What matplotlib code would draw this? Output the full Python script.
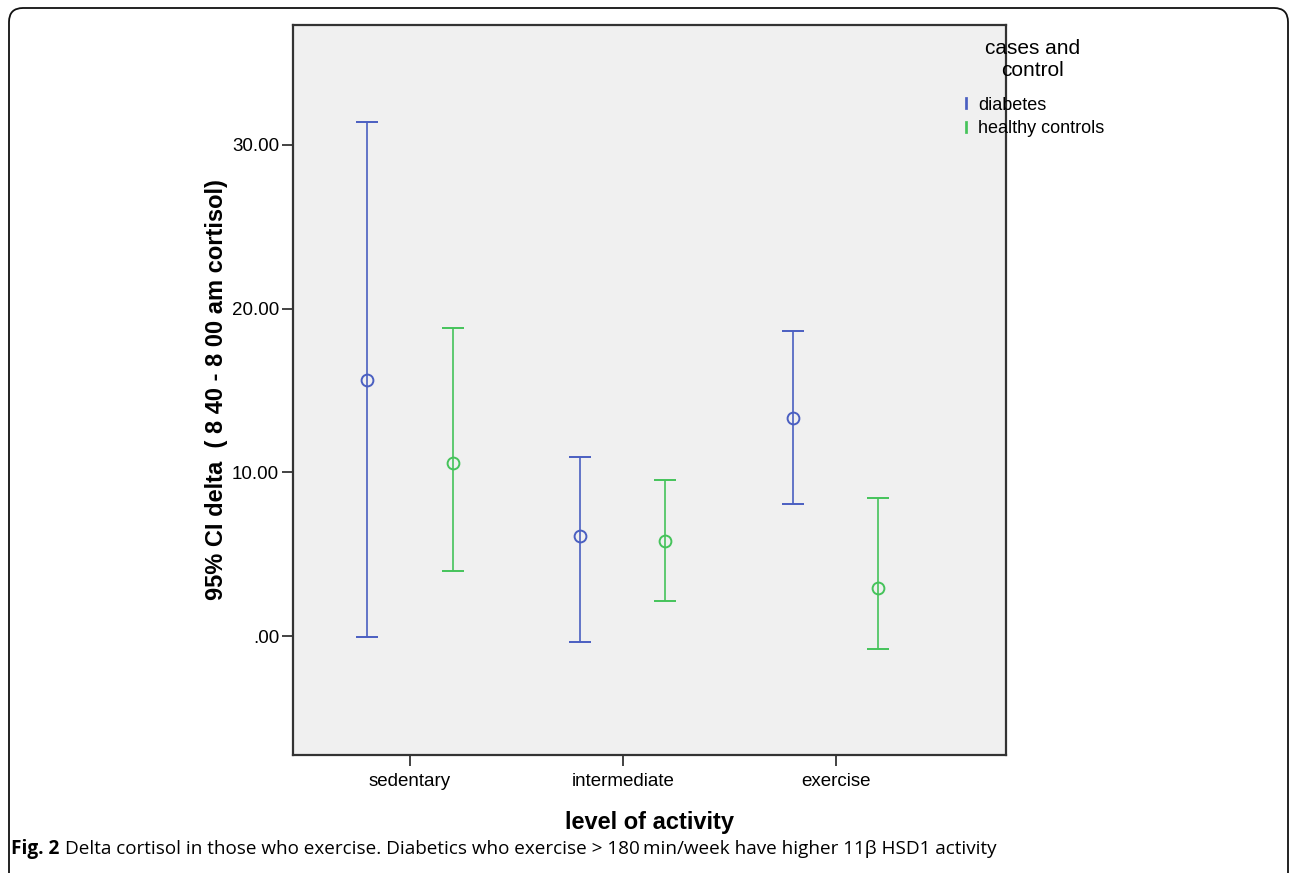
import numpy as np
import matplotlib
matplotlib.use('Agg')
import matplotlib.pyplot as plt
from matplotlib.lines import Line2D
from matplotlib.patches import FancyBboxPatch

# data
categories = ['sedentary', 'intermediate', 'exercise']
groups = ['diabetes', 'healthy controls']
means = {'diabetes': [15.66, 6.11, 13.32],
         'healthy controls': [10.57, 5.80, 2.93]}
upper = {'diabetes': [31.40, 10.93, 18.63],
         'healthy controls': [18.84, 9.53, 8.43]}
lower = {'diabetes': [-0.06, -0.37, 8.06],
         'healthy controls': [3.97, 2.14, -0.79]}
yticks = [0, 10, 20, 30]

colors = {'diabetes': '#4a5fc1', 'healthy controls': '#45c35a'}
offsets = {'diabetes': -0.2, 'healthy controls': 0.2}

plt.rcParams['font.family'] = ['Liberation Sans', 'DejaVu Sans']

fig = plt.figure(figsize=(12.9, 8.73), dpi=100)
ax = fig.add_axes([293/1290, 1-755/873, 713/1290, 730/873])
ax.set_facecolor('#f0f0f0')

x = np.arange(len(categories))
for g in groups:
    m = np.array(means[g])
    err = np.vstack([m - np.array(lower[g]), np.array(upper[g]) - m])
    ax.errorbar(x + offsets[g], m, yerr=err, fmt='o', color=colors[g],
                mfc='none', mec=colors[g], ms=8.5, mew=1.4,
                elinewidth=1.2, capsize=8, capthick=1.2)

ax.set_xlim(-0.55, 2.80)
ax.set_ylim(-7.27, 37.33)
ax.set_xticks(x)
ax.set_xticklabels(categories, fontsize=13.5)
ax.set_yticks(yticks)
ax.set_yticklabels([('%.2f' % v).lstrip('0') if v == 0 else '%.2f' % v for v in yticks],
                   fontsize=13.5)
ax.tick_params(length=8, width=1.2, color='#222222', pad=2)
ax.tick_params(axis='x', pad=5)
for s in ax.spines.values():
    s.set_color('#333333')
    s.set_linewidth(1.6)

ax.set_xlabel('level of activity', fontsize=17, fontweight='bold', labelpad=15)
ax.set_ylabel('95% CI delta  ( 8 40 - 8 00 am cortisol)', fontsize=17,
              fontweight='bold', labelpad=3)

handles = [Line2D([], [], ls='none', marker=r'$\mathrm{I}$', color=colors[g],
                  ms=9, mew=0.5) for g in groups]
leg = fig.legend(handles, groups, loc='upper left',
                 bbox_to_anchor=(961/1290, 1-39/873), frameon=False,
                 title='cases and\ncontrol', fontsize=13, title_fontsize=15,
                 handlelength=0.6, handletextpad=0.35, labelspacing=0.35,
                 borderaxespad=0, borderpad=0)
leg.get_title().set_multialignment('center')
leg._legend_box.sep = 12

# rounded frame around the whole figure, open at the bottom
frame = FancyBboxPatch((0.09, -0.5), 12.79, 9.15,
                       boxstyle='round,pad=0,rounding_size=0.14',
                       transform=fig.dpi_scale_trans, fill=False,
                       ec='#111111', lw=1.3, clip_on=False)
fig.patches.append(frame)

t1 = fig.text(11/1290, 24/873, 'Fig. 2', fontsize=13.7, fontweight='bold',
              family='Open Sans', va='center')
fig.canvas.draw()
bb = t1.get_window_extent()
fig.text((bb.x1 + 6)/1290, 24/873,
         'Delta cortisol in those who exercise. Diabetics who exercise > 180\u2009min/week '
         'have higher 11\u03b2 HSD1 activity',
         fontsize=13.6, family=['Open Sans', 'DejaVu Sans'], va='center')

fig.savefig('out.png', dpi=100)
